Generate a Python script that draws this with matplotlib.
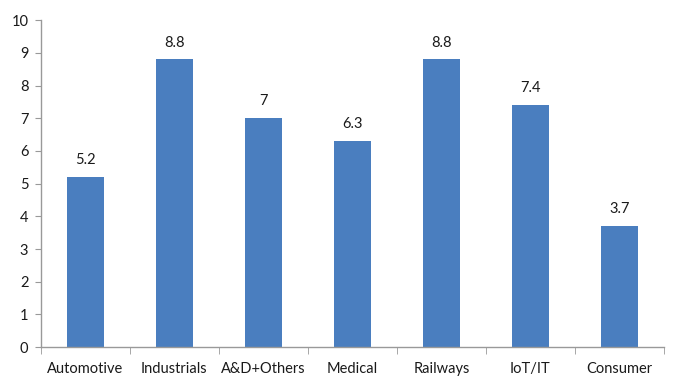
import matplotlib
matplotlib.use("Agg")
import matplotlib.pyplot as plt
import numpy as np

categories = ["Automotive", "Industrials", "A&D+Others", "Medical", "Railways", "IoT/IT", "Consumer"]
values = [5.2, 8.8, 7, 6.3, 8.8, 7.4, 3.7]
value_labels = ["5.2", "8.8", "7", "6.3", "8.8", "7.4", "3.7"]
y_ticks = list(range(0, 11))

plt.rcParams["font.family"] = ["Lato", "DejaVu Sans"]

fig = plt.figure(figsize=(6.81, 3.79), dpi=100)
ax = fig.add_axes([0.060, 0.084, 0.915, 0.863])

x = np.arange(len(categories))
bar_color = "#4A7EBF"
ax.bar(x, values, width=0.42, color=bar_color, zorder=2)

for xi, v, lab in zip(x, values, value_labels):
    ax.annotate(lab, (xi, v), xytext=(0, 7), textcoords="offset points",
                ha="center", va="bottom", fontsize=10.5, color="#1a1a1a")

ax.set_xlim(-0.5, len(categories) - 0.5)
ax.set_ylim(0, 10)
ax.set_yticks(y_ticks)
ax.set_yticklabels([str(t) for t in y_ticks], fontsize=10.5, color="#1a1a1a")

# category labels centred, tick marks on category boundaries
ax.set_xticks(x)
ax.set_xticklabels(categories, fontsize=10.5, color="#1a1a1a")
ax.tick_params(axis="x", which="major", length=0, pad=11)
ax.set_xticks(np.arange(-0.5, len(categories), 1.0), minor=True)
ax.tick_params(axis="x", which="minor", length=5, color="#999999", direction="out")
ax.tick_params(axis="y", length=4, color="#999999", direction="out", pad=5)

for side in ("top", "right"):
    ax.spines[side].set_visible(False)
for side in ("left", "bottom"):
    ax.spines[side].set_color("#999999")
    ax.spines[side].set_linewidth(1.0)

fig.savefig("out.png", dpi=100)
